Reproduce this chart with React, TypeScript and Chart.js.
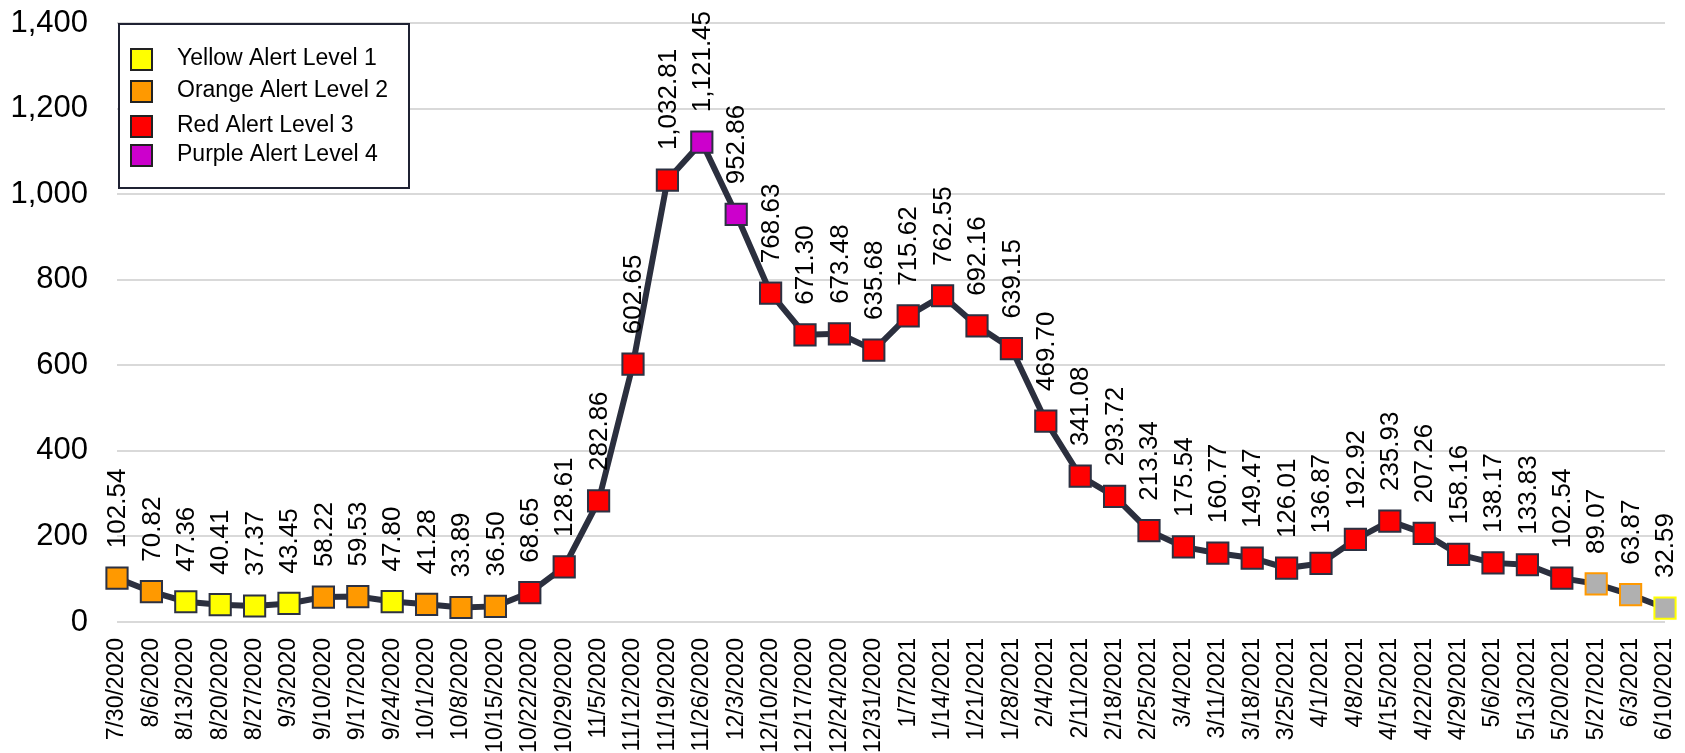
import React, { useEffect, useRef } from "react";
import { Chart, registerables } from "chart.js";

Chart.register(...registerables);

const dates = [
  "7/30/2020", "8/6/2020", "8/13/2020", "8/20/2020", "8/27/2020", "9/3/2020", "9/10/2020", "9/17/2020",
  "9/24/2020", "10/1/2020", "10/8/2020", "10/15/2020", "10/22/2020", "10/29/2020", "11/5/2020", "11/12/2020",
  "11/19/2020", "11/26/2020", "12/3/2020", "12/10/2020", "12/17/2020", "12/24/2020", "12/31/2020", "1/7/2021",
  "1/14/2021", "1/21/2021", "1/28/2021", "2/4/2021", "2/11/2021", "2/18/2021", "2/25/2021", "3/4/2021",
  "3/11/2021", "3/18/2021", "3/25/2021", "4/1/2021", "4/8/2021", "4/15/2021", "4/22/2021", "4/29/2021",
  "5/6/2021", "5/13/2021", "5/20/2021", "5/27/2021", "6/3/2021", "6/10/2021",
];

const values = [
  102.54, 70.82, 47.36, 40.41, 37.37, 43.45, 58.22, 59.53,
  47.8, 41.28, 33.89, 36.5, 68.65, 128.61, 282.86, 602.65,
  1032.81, 1121.45, 952.86, 768.63, 671.3, 673.48, 635.68, 715.62,
  762.55, 692.16, 639.15, 469.7, 341.08, 293.72, 213.34, 175.54,
  160.77, 149.47, 126.01, 136.87, 192.92, 235.93, 207.26, 158.16,
  138.17, 133.83, 102.54, 89.07, 63.87, 32.59,
];

// Alert level of each week (1 yellow, 2 orange, 3 red, 4 purple)
const levels = [
  2, 2, 1, 1, 1, 1, 2, 2,
  1, 2, 2, 2, 3, 3, 3, 3,
  3, 4, 4, 3, 3, 3, 3, 3,
  3, 3, 3, 3, 3, 3, 3, 3,
  3, 3, 3, 3, 3, 3, 3, 3,
  3, 3, 3, 2, 2, 1,
];

// Weeks with provisional (gray) markers
const provisional = [
  false, false, false, false, false, false, false, false,
  false, false, false, false, false, false, false, false,
  false, false, false, false, false, false, false, false,
  false, false, false, false, false, false, false, false,
  false, false, false, false, false, false, false, false,
  false, false, false, true, true, true,
];

const legendLabels = ["Yellow Alert Level 1", "Orange Alert Level 2", "Red Alert Level 3", "Purple Alert Level 4"];
const levelColors = ["#FFFF00", "#FF9900", "#FF0000", "#CC00CC"];

const yTicks = [0, 200, 400, 600, 800, 1000, 1200, 1400];

const FONT = "'Liberation Sans', Arial, sans-serif";
const MARKER_BORDER = "#2c3142";
const LINE_COLOR = "#2b2f3e";
const LEGEND_ROW_OFFSETS = [35, 67, 102, 131];

const fmt = (v: number) =>
  v.toLocaleString("en-US", { minimumFractionDigits: 2, maximumFractionDigits: 2 });

const dataLabelPlugin = {
  id: "dataLabels",
  afterDatasetsDraw(chart: any) {
    const meta = chart.getDatasetMeta(0);
    const ctx = chart.ctx;
    ctx.save();
    ctx.font = `26px ${FONT}`;
    ctx.fillStyle = "#000";
    ctx.textAlign = "left";
    ctx.textBaseline = "middle";
    meta.data.forEach((pt: any, i: number) => {
      ctx.save();
      ctx.translate(pt.x + 1, pt.y - 30);
      ctx.rotate(-Math.PI / 2);
      ctx.fillText(fmt(values[i]), 0, 0);
      ctx.restore();
    });
    ctx.restore();
  },
};

const legendBoxPlugin = {
  id: "legendBox",
  afterDraw(chart: any) {
    const ctx = chart.ctx;
    const { left, top } = chart.chartArea;
    const bx = left + 2;
    const by = top + 1;
    const bw = 290;
    const bh = 164;
    ctx.save();
    ctx.fillStyle = "#fff";
    ctx.fillRect(bx, by, bw, bh);
    ctx.strokeStyle = "#1f2233";
    ctx.lineWidth = 2;
    ctx.strokeRect(bx, by, bw, bh);
    ctx.font = `23px ${FONT}`;
    ctx.textAlign = "left";
    ctx.textBaseline = "middle";
    legendLabels.forEach((label, i) => {
      const cy = by + LEGEND_ROW_OFFSETS[i];
      ctx.fillStyle = levelColors[i];
      ctx.fillRect(bx + 12, cy - 10, 21, 21);
      ctx.strokeStyle = "#222";
      ctx.lineWidth = 2;
      ctx.strokeRect(bx + 12, cy - 10, 21, 21);
      ctx.fillStyle = "#000";
      ctx.fillText(label, bx + 58, cy);
    });
    ctx.restore();
  },
};

export default function App() {
  const canvasRef = useRef<HTMLCanvasElement | null>(null);

  useEffect(() => {
    document.body.style.margin = "0";
    const canvas = canvasRef.current;
    if (!canvas) return;

    const bg = values.map((_, i) => (provisional[i] ? "#B0B0B0" : levelColors[levels[i] - 1]));
    const bd = values.map((_, i) => (provisional[i] ? levelColors[levels[i] - 1] : MARKER_BORDER));

    const chart = new Chart(canvas, {
      type: "line",
      data: {
        labels: dates,
        datasets: [
          {
            data: values,
            borderColor: LINE_COLOR,
            borderWidth: 6,
            tension: 0,
            pointStyle: "rect",
            pointRadius: 15,
            pointHoverRadius: 15,
            pointBackgroundColor: bg,
            pointBorderColor: bd,
            pointBorderWidth: 2,
            clip: false,
          } as any,
        ],
      },
      options: {
        responsive: false,
        animation: false,
        events: [],
        layout: { padding: { top: 23, right: 20, left: 0, bottom: 0 } },
        plugins: {
          legend: { display: false },
          tooltip: { enabled: false },
        },
        scales: {
          x: {
            offset: false,
            grid: { display: false, drawTicks: false },
            border: { display: false },
            afterFit: (scale: any) => {
              scale.height = 131;
              scale.paddingLeft = 0;
              scale.paddingRight = 0;
            },
            ticks: {
              autoSkip: false,
              minRotation: 90,
              maxRotation: 90,
              padding: 16,
              color: "#000",
              font: { family: FONT, size: 23 },
            },
          },
          y: {
            min: 0,
            max: 1400,
            afterBuildTicks: (scale: any) => {
              scale.ticks = yTicks.map((v) => ({ value: v }));
            },
            afterFit: (scale: any) => {
              scale.width = 117;
              scale.paddingTop = 0;
              scale.paddingBottom = 0;
            },
            grid: { color: "#d9d9d9", lineWidth: 2, drawTicks: false },
            border: { display: false },
            ticks: {
              padding: 29,
              color: "#000",
              font: { family: FONT, size: 31 },
              callback: (v: any) => Number(v).toLocaleString("en-US"),
            },
          },
        },
      },
      plugins: [dataLabelPlugin, legendBoxPlugin],
    });

    return () => chart.destroy();
  }, []);

  return <canvas ref={canvasRef} width={1685} height={753} style={{ display: "block" }} />;
}
